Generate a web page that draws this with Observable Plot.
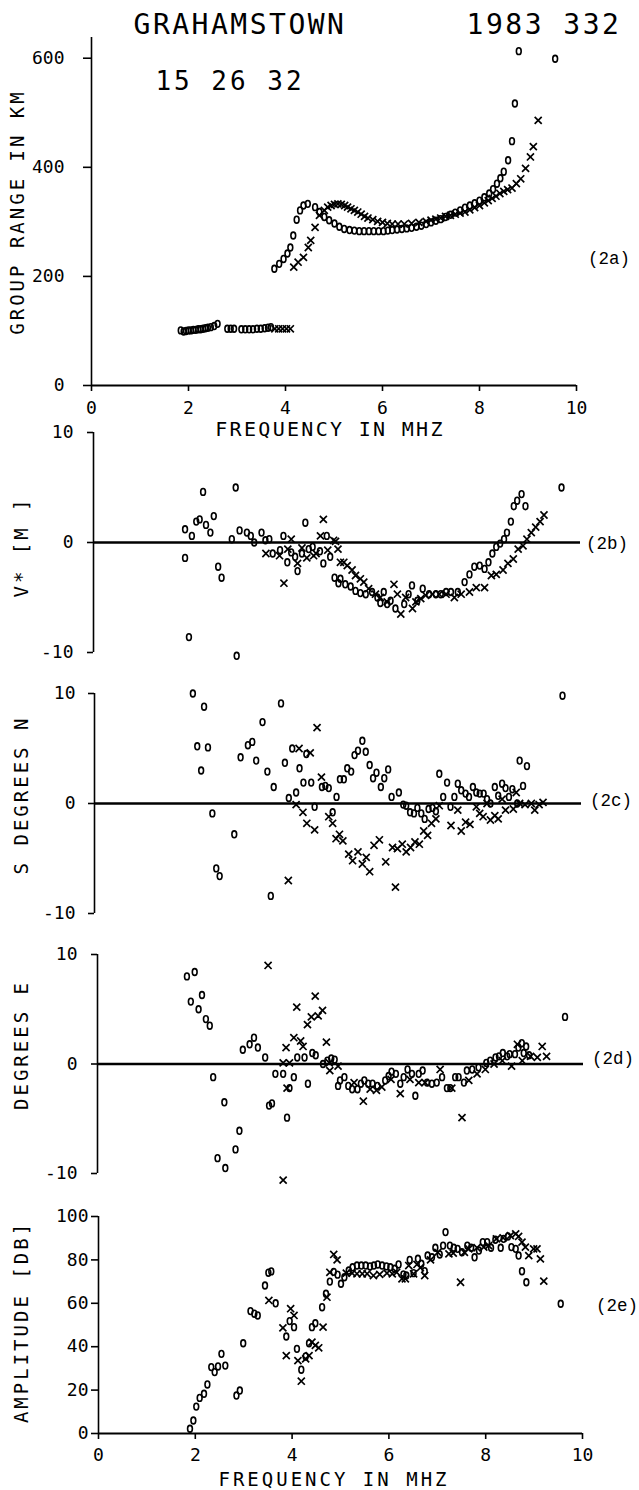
<!DOCTYPE html>
<html><head><meta charset="utf-8">
<script src="https://cdn.jsdelivr.net/npm/d3@7"></script>
<script src="https://cdn.jsdelivr.net/npm/@observablehq/plot@0.6"></script>
<style>
body{margin:0;background:#fff;}
#page{position:relative;width:639px;height:1490px;overflow:hidden;background:#fff;}
#page svg{position:absolute;left:0;overflow:visible;}
.lbl{position:absolute;white-space:pre;color:#000;line-height:1;}
</style></head><body><div id="page"></div>
<script>
// ---------- data ----------
const freqDomain = [0, 10];
const freqTicks = [0, 2, 4, 6, 8, 10];
const rangeDomain = [0, 638];
const rangeTicks = [0, 200, 400, 600];
const devDomain = [-10, 10];
const devTicks = [-10, 0, 10];
const ampDomain = [0, 100];
const ampTicks = [0, 20, 40, 60, 80, 100];

// (2a) group range, km
const groupRangeO = [[1.84,101],[1.90,99],[1.95,100],[2.00,101],[2.05,101],[2.10,102],[2.15,102],[2.20,103],[2.25,103],[2.30,104],[2.35,105],[2.40,106],[2.46,107],[2.53,109],[2.60,113],
[2.80,104],[2.87,104],[2.94,104],[3.09,103],[3.17,103],[3.25,103],[3.33,103],[3.41,104],[3.49,104],[3.57,105],[3.64,106],[3.70,107],
[3.77,214],[3.87,223],[3.96,232],[4.04,242],[4.10,253],[4.16,275],[4.23,304],[4.30,321],[4.37,330],[4.46,333],[4.61,327],[4.70,318],[4.80,309],[4.90,303],[5.01,297],[5.11,291],[5.21,287],[5.32,285],[5.42,284],[5.52,283],[5.62,283],[5.72,283],[5.82,283],[5.92,283],[6.02,283],[6.11,284],[6.20,285],[6.30,286],[6.40,287],[6.50,288],[6.60,289],[6.70,291],[6.80,293],[6.90,296],[7.00,299],[7.10,302],[7.20,305],[7.30,309],[7.40,313],[7.50,317],[7.60,321],[7.70,326],[7.80,330],[7.90,334],[8.00,339],[8.10,345],[8.20,352],[8.28,360],[8.36,370],[8.43,380],[8.50,392],[8.59,413],[8.67,448],[8.73,517],[8.81,613],[9.56,599]];
const groupRangeX = [[3.78,104],[3.86,104],[3.94,104],[4.02,104],[4.10,104],
[4.17,217],[4.26,226],[4.37,235],[4.47,253],[4.52,266],[4.61,290],[4.70,312],[4.80,321],[4.87,327],[4.94,330],[5.01,332],[5.08,333],[5.15,332],[5.22,330],[5.28,327],[5.35,324],[5.42,321],[5.49,318],[5.56,314],[5.63,310],[5.70,307],[5.80,304],[5.90,301],[6.00,299],[6.10,297],[6.20,296],[6.32,296],[6.45,296],[6.60,297],[6.75,299],[6.90,301],[7.00,303],[7.10,305],[7.20,307],[7.30,310],[7.40,312],[7.50,314],[7.60,316],[7.70,318],[7.80,322],[7.90,326],[8.00,330],[8.10,335],[8.18,339],[8.26,343],[8.34,347],[8.42,352],[8.50,356],[8.58,359],[8.67,362],[8.76,370],[8.85,379],[8.95,398],[9.05,419],[9.11,438],[9.21,486]];

// (2b) V*
const vStarO = [[1.88,1.2],[1.88,-1.4],[1.96,-8.6],[2.02,0.6],[2.11,1.9],[2.18,2.1],[2.25,4.6],[2.31,1.6],[2.40,0.9],[2.47,2.4],[2.56,-2.2],[2.63,-3.2],[2.84,0.3],[2.92,5.0],[2.94,-10.3],[3.00,1.1],[3.15,0.9],[3.23,0.6],[3.30,0.0],[3.45,0.9],[3.53,0.2],[3.61,0.3],[3.68,-1.0],[3.83,-0.7],[3.90,0.6],[3.98,-1.8],[4.06,-0.9],[4.14,-1.3],[4.19,-2.6],[4.28,-1.0],[4.35,1.8],[4.42,-0.6],[4.50,-0.4],[4.65,-0.8],[4.72,-1.9],[4.79,0.6],[4.86,-1.3],[4.95,-3.2],[5.03,-3.7],[5.07,-3.3],[5.17,-3.8],[5.28,-4.0],[5.38,-4.4],[5.48,-4.6],[5.59,-4.7],[5.72,-4.5],[5.83,-5.0],[5.89,-5.5],[5.96,-4.5],[6.03,-5.6],[6.10,-5.3],[6.20,-6.0],[6.38,-5.6],[6.47,-4.7],[6.54,-3.9],[6.65,-5.3],[6.76,-4.2],[6.89,-4.7],[7.03,-4.7],[7.13,-4.7],[7.24,-4.5],[7.34,-4.5],[7.48,-4.5],[7.62,-3.6],[7.72,-2.9],[7.82,-2.2],[7.93,-2.1],[8.03,-2.4],[8.11,-1.8],[8.19,-1.0],[8.27,-0.4],[8.35,-0.1],[8.43,0.3],[8.49,0.9],[8.57,1.9],[8.63,3.3],[8.70,3.8],[8.79,4.4],[8.87,3.3],[9.61,5.0]];
const vStarX = [[3.54,-1.0],[3.82,-1.2],[3.91,-3.7],[3.99,-0.6],[4.06,0.3],[4.19,-1.9],[4.28,-0.5],[4.38,-1.4],[4.52,-1.2],[4.57,-1.0],[4.66,0.6],[4.72,2.1],[4.81,-0.7],[4.93,0.2],[4.97,0.1],[5.02,-0.6],[5.07,-1.8],[5.14,-1.8],[5.21,-2.1],[5.31,-2.5],[5.38,-3.0],[5.48,-3.3],[5.55,-3.6],[5.65,-4.2],[5.79,-4.7],[5.89,-5.0],[6.03,-5.4],[6.17,-3.8],[6.24,-4.7],[6.31,-6.5],[6.41,-5.0],[6.55,-6.0],[6.62,-5.4],[6.72,-5.1],[6.82,-4.8],[6.96,-4.7],[7.10,-4.7],[7.24,-4.7],[7.41,-5.0],[7.55,-4.7],[7.72,-4.5],[7.86,-4.1],[8.03,-4.1],[8.17,-3.0],[8.27,-2.9],[8.41,-2.5],[8.51,-1.9],[8.62,-1.5],[8.72,-0.6],[8.82,-0.3],[8.90,0.3],[8.99,0.9],[9.08,1.4],[9.17,1.9],[9.25,2.5]];

// (2c) degrees N
const latO = [[2.02,10.0],[2.11,5.2],[2.19,3.0],[2.25,8.8],[2.33,5.1],[2.42,-0.9],[2.50,-5.9],[2.57,-6.6],[2.87,-2.8],[3.00,4.2],[3.15,5.3],[3.24,5.6],[3.32,3.9],[3.45,7.4],[3.55,2.9],[3.62,-8.4],[3.68,1.5],[3.83,9.1],[3.91,3.7],[3.99,0.5],[4.06,5.0],[4.14,1.0],[4.21,3.2],[4.29,1.9],[4.35,4.5],[4.45,1.9],[4.52,-0.3],[4.67,1.5],[4.74,1.6],[4.81,1.4],[4.89,-0.8],[4.97,0.6],[5.04,2.2],
[5.12,2.2],[5.19,3.2],[5.27,2.9],[5.34,4.4],[5.41,4.8],[5.50,5.7],[5.57,4.7],[5.65,3.5],[5.72,2.3],[5.79,2.8],[5.88,1.5],[5.95,2.3],[6.03,3.1],[6.10,0.6],[6.25,1.0],[6.34,-0.1],[6.40,-0.2],[6.48,-0.8],[6.56,-0.9],[6.63,-0.4],[6.71,-0.9],[6.78,-1.4],[6.86,-0.5],[6.94,-0.4],[7.01,-0.7],[7.08,2.7],[7.16,0.6],[7.24,1.9],[7.31,-0.3],[7.39,0.6],[7.46,1.8],[7.53,1.2],[7.62,0.9],[7.69,0.6],[7.77,1.5],[7.84,1.0],[7.91,0.9],[7.99,0.9],[8.06,0.4],[8.13,0.0],[8.22,1.5],[8.29,0.7],[8.37,1.8],[8.44,1.4],[8.51,0.6],[8.58,1.3],[8.68,0.0],[8.73,3.9],[8.80,1.6],[8.88,3.4],[9.61,9.8]];
const latX = [[3.98,-7.0],[4.14,-0.1],[4.20,5.0],[4.28,-0.8],[4.36,-1.8],[4.43,4.6],[4.52,-2.4],[4.57,6.9],[4.66,2.4],[4.81,-1.2],[4.89,-1.8],[4.96,-3.2],[5.03,-2.8],
[5.10,-3.4],[5.22,-4.6],[5.30,-5.2],[5.41,-4.4],[5.50,-5.5],[5.58,-4.9],[5.65,-6.2],[5.74,-3.8],[5.85,-3.3],[5.98,-5.3],[6.12,-4.0],[6.18,-7.6],[6.22,-4.1],[6.32,-3.7],[6.40,-4.4],[6.49,-4.0],[6.58,-3.5],[6.67,-3.7],[6.76,-2.5],[6.84,-2.9],[6.92,-1.8],[7.01,-1.4],[7.08,-0.2],[7.32,-2.0],[7.46,-0.6],[7.53,-2.5],[7.62,-1.7],[7.71,-1.9],[7.84,-0.3],[7.91,-0.9],[7.98,-1.2],[8.06,0.0],[8.13,-1.5],[8.22,-1.1],[8.29,-1.4],[8.37,0.4],[8.44,-0.6],[8.60,-0.5],[8.66,1.0],[8.73,0.0],[8.84,-0.1],[8.97,0.0],[9.04,-0.6],[9.13,-0.1],[9.21,0.1]];

// (2d) degrees E
const lonO = [[1.84,8.0],[1.92,5.7],[2.00,8.4],[2.08,5.0],[2.15,6.3],[2.23,4.1],[2.31,3.5],[2.38,-1.2],[2.47,-8.6],[2.61,-3.5],[2.63,-9.5],[2.84,-7.8],[2.92,-6.1],[2.99,1.3],[3.13,1.8],[3.22,2.4],[3.30,1.5],[3.45,0.6],[3.53,-3.8],[3.59,-3.6],[3.66,-0.9],[3.82,-0.9],[3.90,-4.9],[3.95,-2.2],[4.04,-1.2],[4.11,0.6],[4.26,0.6],[4.33,-1.8],[4.42,1.0],[4.49,0.8],[4.64,0.0],[4.73,0.3],[4.81,0.5],[4.88,0.4],[4.95,-2.0],
[4.99,-1.5],[5.08,-1.2],[5.16,-2.0],[5.24,-2.3],[5.35,-2.3],[5.42,-1.8],[5.49,-1.5],[5.57,-1.8],[5.66,-1.8],[5.76,-2.0],[5.92,-1.5],[5.99,-1.1],[6.05,-0.7],[6.14,-0.9],[6.23,-1.8],[6.30,-1.2],[6.38,-0.5],[6.47,-0.9],[6.54,-2.9],[6.61,-0.9],[6.69,-0.6],[6.78,-1.7],[6.88,-1.8],[6.98,-1.7],[7.09,-1.2],[7.19,-2.2],[7.26,-2.2],[7.36,-1.2],[7.43,-1.2],[7.54,-1.7],[7.60,-0.6],[7.71,-0.5],[7.84,-0.3],[8.00,0.1],[8.08,0.3],[8.19,0.6],[8.26,0.7],[8.34,1.0],[8.43,0.7],[8.48,0.9],[8.59,0.9],[8.66,1.5],[8.73,1.9],[8.77,1.0],[8.82,1.6],[8.88,0.8],[9.62,4.3]];
const lonX = [[3.51,9.0],[3.82,-10.6],[3.82,0.1],[3.88,1.5],[3.90,-2.2],[3.95,0.1],[4.04,2.4],[4.10,5.2],[4.18,2.1],[4.23,1.6],[4.32,3.6],[4.40,4.3],[4.48,6.2],[4.54,4.4],[4.63,4.9],[4.71,2.0],[4.77,0.1],[4.78,-0.6],[4.95,-0.2],[5.28,-1.7],[5.47,-3.4],[5.61,-2.3],[5.74,-2.4],[5.85,-2.1],[6.04,-1.4],[6.23,-2.7],[6.43,-1.4],[6.61,-1.7],[6.74,-1.7],[7.05,-0.5],[7.29,-2.2],[7.50,-4.9],[7.64,-1.5],[7.81,-0.9],[7.98,-0.5],[8.16,0.0],[8.33,0.3],[8.52,-0.2],[8.64,1.8],[8.74,0.3],[8.91,0.7],[9.05,0.6],[9.15,1.6],[9.24,0.7]];

// (2e) amplitude, dB
const ampO = [[1.89,2.2],[1.96,6.0],[2.02,12.4],[2.09,16.4],[2.18,18.3],[2.25,22.6],[2.33,30.6],[2.40,28.3],[2.47,30.9],[2.54,36.7],[2.62,31.3],[2.85,17.5],[2.92,19.8],[2.99,41.6],[3.14,56.4],[3.22,55.2],[3.29,54.4],[3.44,68.2],[3.51,74.1],[3.57,74.7],[3.66,60.0],[3.88,44.7],[3.95,51.8],[4.04,49.0],[4.10,39.0],[4.19,29.4],[4.28,35.5],[4.35,41.6],[4.41,49.0],[4.48,50.8],[4.62,58.2],[4.70,64.4],[4.78,70.0],[4.86,74.5],[4.94,73.2],[5.01,69.0],[5.08,72.0],[5.17,75.1],[5.25,76.6],[5.34,77.4],[5.43,77.4],[5.52,77.4],[5.61,77.0],[5.69,77.4],[5.77,77.9],[5.86,77.4],[5.95,77.0],[6.03,76.6],[6.12,75.9],[6.20,77.9],[6.30,73.3],[6.36,72.8],[6.43,80.0],[6.51,73.9],[6.60,80.5],[6.67,78.2],[6.74,74.8],[6.80,82.0],[6.89,81.2],[6.96,85.6],[7.05,82.5],[7.12,86.6],[7.17,92.8],[7.26,86.6],[7.34,85.6],[7.42,85.1],[7.51,83.5],[7.62,86.6],[7.70,85.6],[7.77,81.2],[7.86,84.3],[7.94,88.2],[8.03,88.2],[8.11,85.6],[8.20,89.3],[8.31,85.6],[8.37,89.7],[8.46,90.8],[8.53,85.9],[8.62,85.1],[8.68,82.0],[8.75,74.8],[8.84,69.7],[9.55,59.8]];
const ampX = [[3.52,61.3],[3.81,48.7],[3.88,35.9],[3.97,57.5],[4.04,54.4],[4.12,33.6],[4.19,24.1],[4.28,34.4],[4.35,35.9],[4.41,42.1],[4.48,40.6],[4.55,39.5],[4.64,49.0],[4.72,62.8],[4.78,74.3],[4.86,82.5],[4.93,80.0],[5.12,73.9],[5.24,73.9],[5.34,73.6],[5.45,73.6],[5.55,73.6],[5.68,72.8],[5.81,73.3],[5.96,73.9],[6.07,73.6],[6.16,74.3],[6.27,71.3],[6.34,71.3],[6.41,77.4],[6.51,73.6],[6.58,77.9],[6.65,76.4],[6.74,72.8],[6.86,80.0],[7.01,83.5],[7.24,82.8],[7.33,83.1],[7.48,69.7],[7.56,83.5],[7.65,85.1],[7.82,85.6],[7.96,85.9],[8.06,86.6],[8.22,89.7],[8.36,90.2],[8.51,91.2],[8.62,92.0],[8.68,90.8],[8.75,88.2],[8.82,85.9],[8.89,82.0],[8.99,85.1],[9.06,85.1],[9.13,80.5],[9.20,70.2]];

// texts
const titleStation = "GRAHAMSTOWN";
const titleDate = "1983 332";
const titleTime = "15 26 32";
const xTitle = "FREQUENCY IN MHZ";
const yTitles = ["GROUP RANGE IN KM", "V* [M ]", "S DEGREES N", "DEGREES E", "AMPLITUDE [DB]"];
const panelTags = ["(2a)", "(2b)", "(2c)", "(2d)", "(2e)"];

// ---------- layout ----------
const page = document.getElementById("page");
const tickFont = "DejaVu Sans Mono, monospace";

// small upright oval, like the plotter's "o" character
const ovalSymbol = {
  draw(ctx) {
    const rx = 2.4, ry = 3.4, k = 0.5523;
    ctx.moveTo(rx, 0);
    ctx.bezierCurveTo(rx, ry * k, rx * k, ry, 0, ry);
    ctx.bezierCurveTo(-rx * k, ry, -rx, ry * k, -rx, 0);
    ctx.bezierCurveTo(-rx, -ry * k, -rx * k, -ry, 0, -ry);
    ctx.bezierCurveTo(rx * k, -ry, rx, -ry * k, rx, 0);
    ctx.closePath();
  }
};

const panels = [
  {top: 37,   bottom: 385,  left: 91, right: 576, yDomain: rangeDomain, yTicks: rangeTicks, o: groupRangeO, x: groupRangeX, xAxis: true,  zero: false, tickSize: 8, tickPad: 19, xTickPad: 10},
  {top: 432,  bottom: 652,  left: 93, right: 580, yDomain: devDomain,   yTicks: devTicks,   o: vStarO,      x: vStarX,      xAxis: false, zero: true,  tickSize: 6, tickPad: 14},
  {top: 693,  bottom: 913,  left: 94, right: 581, yDomain: devDomain,   yTicks: devTicks,   o: latO,        x: latX,        xAxis: false, zero: true,  tickSize: 6, tickPad: 13},
  {top: 954,  bottom: 1173, left: 97, right: 583, yDomain: devDomain,   yTicks: devTicks,   o: lonO,        x: lonX,        xAxis: false, zero: true,  tickSize: 6, tickPad: 14},
  {top: 1216, bottom: 1433, left: 98, right: 582, yDomain: ampDomain,   yTicks: ampTicks,   o: ampO,        x: ampX,        xAxis: true,  zero: false, tickSize: 7, tickPad: 3,  xTickPad: 9}
];

for (const p of panels) {
  const mt = 30, mb = 44;
  const marks = [
    Plot.ruleX([freqDomain[0]], {y1: p.yDomain[0], y2: p.yDomain[1], stroke: "#000", strokeWidth: 1.6}),
    Plot.axisY({ticks: p.yTicks, tickSize: p.tickSize, tickPadding: p.tickPad, tickFormat: d => String(d), label: null, strokeWidth: 1.6})
  ];
  if (p.xAxis) {
    marks.push(Plot.ruleY([p.yDomain[0]], {x1: freqDomain[0], x2: freqDomain[1], stroke: "#000", strokeWidth: 2}));
    marks.push(Plot.axisX({ticks: freqTicks, tickSize: 6, tickPadding: p.xTickPad, tickFormat: d => String(d), label: null, strokeWidth: 1.6}));
  }
  if (p.zero) {
    marks.push(Plot.ruleY([0], {x1: freqDomain[0], x2: freqDomain[1], stroke: "#000", strokeWidth: 2.4}));
  }
  marks.push(Plot.dot(p.o, {x: d => d[0], y: d => d[1], symbol: ovalSymbol, r: 3, fill: "none", stroke: "#000", strokeWidth: 1.6}));
  marks.push(Plot.dot(p.x, {x: d => d[0], y: d => d[1], symbol: "times", r: 3.3, fill: "none", stroke: "#000", strokeWidth: 1.7}));

  const svg = Plot.plot({
    width: 639,
    height: (p.bottom - p.top) + mt + mb,
    marginTop: mt, marginBottom: mb,
    marginLeft: p.left, marginRight: 639 - p.right,
    x: {domain: freqDomain, axis: p.xAxis ? undefined : null},
    y: {domain: p.yDomain},
    style: {fontFamily: tickFont, fontSize: "18px", color: "#000", background: "transparent", overflow: "visible"},
    marks
  });
  svg.style.top = (p.top - mt) + "px";
  page.appendChild(svg);
}

function addLabel(txt, cx, cy, o = {}) {
  const d = document.createElement("div");
  d.className = "lbl";
  d.textContent = txt;
  d.style.fontFamily = o.family || tickFont;
  d.style.fontSize = (o.size || 19) + "px";
  d.style.letterSpacing = (o.spacing || 0) + "px";
  if (o.weight) d.style.fontWeight = o.weight;
  d.style.left = cx + "px";
  d.style.top = cy + "px";
  d.style.transform = `translate(-50%,-50%) rotate(${o.rotate || 0}deg)`;
  page.appendChild(d);
}

addLabel(titleStation, 240, 25, {size: 28, spacing: 2.5});
addLabel(titleDate, 544, 25, {size: 28, spacing: 2.5});
addLabel(titleTime, 230, 81, {size: 26, spacing: 3});

addLabel(xTitle, 330, 429, {size: 20, spacing: 2.3});
addLabel(xTitle, 334, 1479, {size: 19, spacing: 3});

const yTitlePos = [[17, 212], [21, 547], [21, 795], [21, 1045], [21, 1322]];
yTitles.forEach((t, i) => addLabel(t, yTitlePos[i][0], yTitlePos[i][1], {size: 19, spacing: 3, rotate: -90}));

const tagPos = [[609, 260], [607, 545], [611, 802], [613, 1060], [617, 1307]];
panelTags.forEach((t, i) => addLabel(t, tagPos[i][0], tagPos[i][1], {size: 17.5, family: "Liberation Mono, monospace"}));
</script></body></html>
